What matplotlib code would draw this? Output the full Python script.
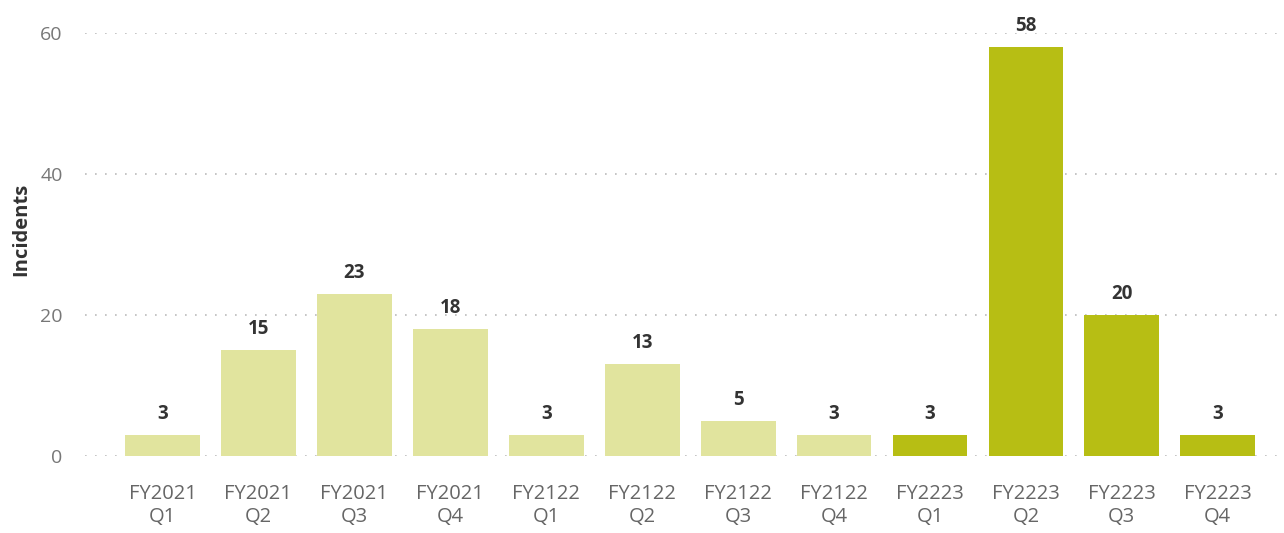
import matplotlib
matplotlib.use("Agg")
import matplotlib.pyplot as plt

quarters = ["FY2021\nQ1", "FY2021\nQ2", "FY2021\nQ3", "FY2021\nQ4",
            "FY2122\nQ1", "FY2122\nQ2", "FY2122\nQ3", "FY2122\nQ4",
            "FY2223\nQ1", "FY2223\nQ2", "FY2223\nQ3", "FY2223\nQ4"]
incidents = [3, 15, 23, 18, 3, 13, 5, 3, 3, 58, 20, 3]
highlight = [False] * 8 + [True] * 4
yticks = [0, 20, 40, 60]

LIGHT = "#E1E49E"
DARK = "#B7BE14"

plt.rcParams["font.family"] = ["Open Sans", "DejaVu Sans"]

fig = plt.figure(figsize=(12.84, 5.33), dpi=100)
ax = fig.add_axes([0.066, 0.1445, 0.934, 0.7936])

x = list(range(len(quarters)))
colors = [DARK if h else LIGHT for h in highlight]
bars = ax.bar(x, incidents, width=0.78, color=colors, zorder=2)

for rect, val in zip(bars, incidents):
    ax.annotate(str(val), xy=(rect.get_x() + rect.get_width() / 2, val),
                xytext=(0, 8), textcoords="offset points",
                ha="center", va="bottom", fontsize=13.5, fontweight="bold",
                color="#333333", annotation_clip=False)

ax.set_xlim(-0.81, 11.69)
ax.set_ylim(0, 60)
ax.set_yticks(yticks)
ax.set_xticks(x)
ax.set_xticklabels(quarters, fontsize=14.5, color="#666666", linespacing=1.2)
ax.tick_params(axis="y", labelsize=14, labelcolor="#777777", length=0, pad=16)
ax.tick_params(axis="x", length=0, pad=20)

ax.grid(axis="y", color="#BBBBBB", linestyle=(0, (1, 5)), linewidth=1.2, zorder=1)
ax.set_axisbelow(True)
for s in ax.spines.values():
    s.set_visible(False)

ax.set_ylabel("Incidents", fontsize=14.5, fontweight="bold", color="#333333")
ax.yaxis.set_label_coords(-0.045, 0.535)

fig.savefig("out.png", dpi=100)
